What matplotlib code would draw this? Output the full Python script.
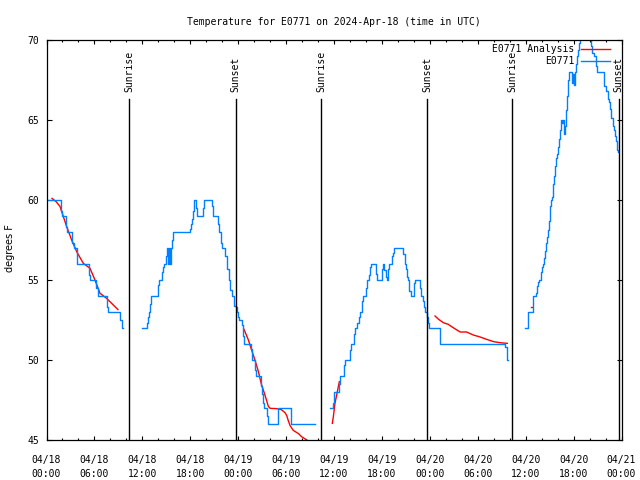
import matplotlib
matplotlib.use("Agg")
import matplotlib.pyplot as plt
import numpy as np
from matplotlib.ticker import MultipleLocator

# hours since 04/18 00:00 UTC, temperature in degrees F
obs1_t = [0.0, 1.77, 1.9, 2.5, 2.6, 3.25, 3.45, 3.85, 5.35, 5.45, 6.2, 6.4, 7.62, 7.72, 9.25, 9.4, 9.55]
obs1_v = [60, 59.3, 59, 58.3, 58, 57.3, 57, 56, 55.3, 55, 54.5, 54, 53.3, 53, 52.5, 52, 52]

obs2_t = [11.96, 12.54, 12.65, 12.8, 13.0, 13.13, 14.0, 14.13, 14.5, 14.63, 14.75, 15.0, 15.13, 15.25,
          15.38, 15.5, 15.63, 15.76, 15.88, 18.0, 18.13, 18.26, 18.38, 18.51, 18.7, 18.85, 19.55, 19.68,
          20.76, 20.89, 21.51, 21.64, 21.81, 21.93, 22.31, 22.56, 22.81, 23.0, 23.17, 23.52, 23.77, 23.9,
          24.0, 24.15, 24.43, 24.56, 24.68, 25.6, 25.76, 26.1, 26.26, 26.87, 27.0, 27.1, 27.25, 27.6,
          27.72, 29.0, 30.6, 33.6]
obs2_v = [52, 52.3, 52.7, 53, 53.5, 54, 54.7, 55, 55.5, 55.8, 56, 56.5, 57, 56,
          57, 56, 57, 57.5, 58, 58.2, 58.5, 58.8, 59.3, 60, 59.5, 59, 59.5, 60,
          59.6, 59, 58.5, 58, 57.3, 57, 56.5, 55.7, 55, 54.4, 54, 53.4, 53.3, 53,
          52.7, 52.5, 52.2, 51.5, 51, 50.7, 50, 49.4, 49, 48.4, 47.9, 47.3, 47, 46.5,
          46, 47, 46, 46]

obs3_t = [35.54, 35.85, 36.0, 36.65, 36.8, 37.25, 37.4, 37.98, 38.1, 38.5, 38.62, 38.9, 39.1, 39.3,
          39.5, 39.62, 39.95, 40.1, 40.4, 40.5, 40.62, 41.2, 41.35, 41.98, 42.1, 42.25, 42.45, 42.6,
          42.75, 42.85, 43.25, 43.4, 43.5, 44.7, 44.85, 45.0, 45.1, 45.25, 45.45, 45.62, 46.0, 46.12,
          46.72, 46.88, 47.1, 47.25, 47.38, 47.6, 47.75, 47.9, 49.3, 57.45, 57.6, 57.7, 57.75]
obs3_v = [47, 47.3, 48, 48.5, 49, 49.7, 50, 50.6, 51, 51.6, 52, 52.3, 52.7, 53,
          53.7, 54, 54.5, 55, 55.3, 55.8, 56, 55.4, 55, 55.7, 56, 55.6, 55.2, 55,
          55.7, 56, 56.5, 56.7, 57, 56.6, 56, 55.7, 55.2, 55, 54.3, 54, 54.8, 55,
          54.5, 54, 53.7, 53.3, 53, 52.7, 52.3, 52, 51, 50.8, 50.4, 50, 50]

obs4_t = [59.96, 60.25, 60.33, 60.98, 61.25, 61.4, 61.5, 61.62, 61.9, 62.02, 62.15, 62.3, 62.42,
          62.55, 62.67, 62.8, 62.92, 63.05, 63.18, 63.3, 63.45, 63.57, 63.7, 63.82, 63.95, 64.07,
          64.2, 64.32, 64.45, 64.57, 64.7, 64.82, 64.95, 65.07, 65.2, 65.32, 65.45, 65.82, 65.95,
          66.08, 66.2, 66.32, 66.45, 66.57, 66.7, 66.82, 68.12, 68.25, 68.5, 68.75, 68.88, 69.85,
          70.1, 70.27, 70.4, 70.52, 70.65, 70.9, 71.03, 71.15, 71.28, 71.4, 71.6]
obs4_v = [52, 52.9, 53, 54, 54.2, 54.6, 54.9, 55, 55.5, 55.8, 56, 56.4, 56.8,
          57.3, 57.7, 58.1, 58.7, 59.6, 60, 60.2, 61, 61.5, 62.1, 62.6, 62.9, 63.3,
          63.8, 64.4, 65, 64.8, 65, 64.1, 64.6, 65.6, 66.5, 67.5, 68, 67.3, 67.9,
          67.2, 68, 68.5, 69, 69.4, 69.8, 71, 69.6, 69.2, 69, 68.4, 68, 67.1,
          66.8, 66.3, 66.1, 65.7, 65.1, 64.6, 64.4, 64, 63.7, 63.1, 63]

ana1_t = [0.69, 1.2, 1.69, 2.11, 2.53, 3.15, 3.78, 4.61, 5.45, 6.07, 6.7, 7.53, 8.79, 8.95]
ana1_v = [60.1, 59.9, 59.6, 58.96, 58.33, 57.5, 56.77, 56.04, 55.73, 55.0, 54.17, 53.85, 53.23, 53.15]

ana2_t = [24.73, 25.28, 25.7, 26.1, 26.52, 26.9, 27.36, 27.78, 28.0, 28.8, 29.4, 29.88, 30.1, 30.28,
          30.5, 30.9, 31.55, 31.95, 32.6]
ana2_v = [51.92, 51.25, 50.6, 50.0, 49.3, 48.5, 47.8, 47.1, 46.98, 46.96, 46.9, 46.7, 46.5, 46.2,
          45.9, 45.6, 45.4, 45.2, 45.0]

ana3_t = [35.79, 35.92, 36.12, 36.33, 36.54, 36.67]
ana3_v = [46.04, 46.46, 47.29, 47.8, 48.33, 48.65]

ana4_t = [48.65, 49.1, 49.7, 50.3, 50.74, 51.37, 51.8, 52.6, 53.45, 54.29, 55.12, 55.96, 56.8, 57.7]
ana4_v = [52.75, 52.54, 52.33, 52.23, 52.08, 51.88, 51.75, 51.75, 51.56, 51.44, 51.29, 51.15, 51.08, 51.04]

ana5_t = [60.66, 60.74]
ana5_v = [53.3, 53.3]

sunrise_h = [10.37, 34.37, 58.33]
sunset_h = [23.69, 47.69, 71.65]

xtick_labels = ["04/18\n00:00", "04/18\n06:00", "04/18\n12:00", "04/18\n18:00",
                "04/19\n00:00", "04/19\n06:00", "04/19\n12:00", "04/19\n18:00",
                "04/20\n00:00", "04/20\n06:00", "04/20\n12:00", "04/20\n18:00",
                "04/21\n00:00"]

RED = "#ff0000"
BLUE = "#0080ff"

plt.rcParams["font.family"] = "DejaVu Sans Mono"
plt.rcParams["font.size"] = 7

fig = plt.figure(figsize=(6.4, 4.8), dpi=100)
ax = fig.add_axes([46.5 / 640, 40 / 480, 575 / 640, 400 / 480])

ana = [(ana1_t, ana1_v), (ana2_t, ana2_v), (ana3_t, ana3_v), (ana4_t, ana4_v), (ana5_t, ana5_v)]
for i, (t, v) in enumerate(ana):
    ax.plot(t, v, color=RED, lw=1.0, label="E0771 Analysis" if i == 0 else None)

obs = [(obs1_t, obs1_v), (obs2_t, obs2_v), (obs3_t, obs3_v), (obs4_t, obs4_v)]
for i, (t, v) in enumerate(obs):
    ax.plot(t, v, color=BLUE, lw=1.0, drawstyle="steps-post", label="E0771" if i == 0 else None)

# sunrise / sunset markers
line_top = 66.31
for name, hours in (("Sunrise", sunrise_h), ("Sunset", sunset_h)):
    for h in hours:
        ax.plot([h, h], [45, line_top], color="black", lw=1.0)
        ax.text(h, 66.75, name, rotation=90, ha="center", va="bottom", fontsize=7, clip_on=False)

ax.set_xlim(0, 72)
ax.set_ylim(45, 70)
ax.set_xticks(np.arange(0, 73, 6))
ax.set_xticklabels(xtick_labels, linespacing=1.55)
ax.xaxis.set_minor_locator(MultipleLocator(2))
ax.set_yticks(np.arange(45, 71, 5))
ax.tick_params(axis="x", which="major", direction="in", length=3, width=0.8, top=True, pad=10.5)
ax.tick_params(axis="x", which="minor", direction="in", length=1.7, width=0.8, top=True)
ax.tick_params(axis="y", which="major", direction="in", length=3.6, width=0.8, right=True, pad=5)
for s in ax.spines.values():
    s.set_linewidth(0.9)

ax.set_title("Temperature for E0771 on 2024-Apr-18 (time in UTC)", fontsize=7, pad=11)
ax.set_ylabel("degrees F", fontsize=7, family="DejaVu Sans")
ax.yaxis.set_label_coords(-0.055, 0.48)

ax.legend(loc="upper right", bbox_to_anchor=(0.98, 0.99), frameon=False, markerfirst=False,
          handlelength=3.0, handletextpad=0.7, labelspacing=0.25, borderaxespad=0, borderpad=0,
          fontsize=7)

fig.savefig("out.png", dpi=100)
